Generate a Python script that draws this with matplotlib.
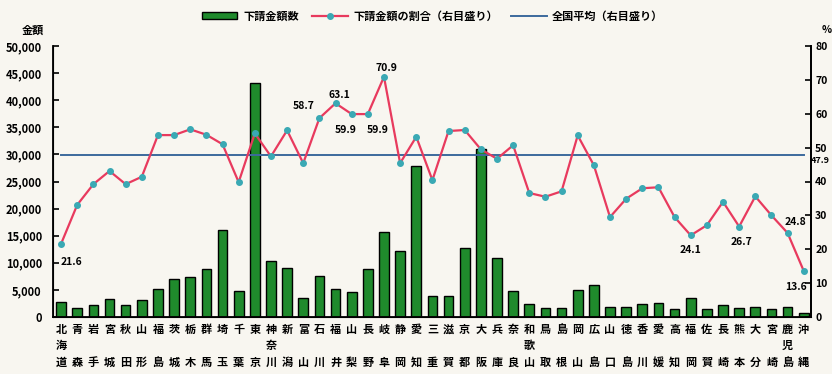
import matplotlib
matplotlib.use("Agg")
import matplotlib.pyplot as plt
from matplotlib.ticker import FuncFormatter, MultipleLocator
from matplotlib.patches import Patch
from matplotlib.lines import Line2D

plt.rcParams['font.family'] = ['Noto Sans CJK JP', 'DejaVu Sans']

prefectures = ["北海道", "青森", "岩手", "宮城", "秋田", "山形", "福島", "茨城", "栃木", "群馬",
               "埼玉", "千葉", "東京", "神奈川", "新潟", "富山", "石川", "福井", "山梨", "長野",
               "岐阜", "静岡", "愛知", "三重", "滋賀", "京都", "大阪", "兵庫", "奈良", "和歌山",
               "鳥取", "島根", "岡山", "広島", "山口", "徳島", "香川", "愛媛", "高知", "福岡",
               "佐賀", "長崎", "熊本", "大分", "宮崎", "鹿児島", "沖縄"]

amounts = [2700, 1750, 2250, 3250, 2150, 3200, 5250, 7000, 7300, 8850,
           16100, 4750, 43200, 10300, 9050, 3450, 7500, 5250, 4700, 8800,
           15600, 12100, 27900, 3950, 3950, 12800, 31000, 10800, 4750, 2400,
           1700, 1700, 5000, 5900, 1900, 1900, 2350, 2650, 1450, 3450,
           1450, 2150, 1700, 1900, 1450, 1900, 650]

shares = [21.6, 33.1, 39.2, 43.1, 39.2, 41.4, 53.7, 53.7, 55.4, 53.8,
          51.0, 39.8, 54.2, 47.4, 55.1, 45.4, 58.7, 63.1, 59.9, 59.9,
          70.9, 45.4, 53.2, 40.4, 54.9, 55.2, 49.5, 46.7, 50.7, 36.6,
          35.5, 37.1, 53.6, 44.8, 29.5, 34.9, 38.0, 38.3, 29.5, 24.1,
          27.1, 34.0, 26.7, 35.6, 30.0, 24.8, 13.6]

national_avg = 47.9

labelled = {0: "21.6", 16: "58.7", 17: "63.1", 18: "59.9", 19: "59.9", 20: "70.9",
            39: "24.1", 42: "26.7", 45: "24.8", 46: "13.6"}
label_offsets = {0: (10, -18), 16: (-16, 12), 17: (4, 8), 18: (-6, -16), 19: (10, -16),
                 20: (2, 9), 39: (0, -15), 42: (2, -15), 45: (8, 11), 46: (-8, -16)}

bg = '#f8f6f0'
fig = plt.figure(figsize=(8.32, 3.74), dpi=100, facecolor=bg)
ax = fig.add_axes([53/832, 1-317/374, (811-53)/832, (317-46)/374])
ax.set_facecolor(bg)
x = list(range(len(prefectures)))

ax.bar(x, amounts, width=0.6, color='#1f8a2c', edgecolor='black', linewidth=1.0, zorder=2)
ax.set_ylim(0, 50000)
ax.set_xlim(-0.5, 46.45)
ax.yaxis.set_major_locator(MultipleLocator(5000))
ax.yaxis.set_major_formatter(FuncFormatter(lambda v, p: f"{int(v):,}"))
ax.tick_params(axis='y', direction='in', length=4, width=1.2, labelsize=8, pad=8)
ax.tick_params(axis='x', length=0, pad=4)
ax.spines['top'].set_visible(False)
for s in ['left', 'right', 'bottom']:
    ax.spines[s].set_linewidth(1.3)
for lab in ax.get_yticklabels():
    lab.set_fontweight('bold')

xlabels = []
for name in prefectures:
    if len(name) == 2:
        xlabels.append(name[0] + "\n\u3000\n" + name[1])
    else:
        xlabels.append("\n".join(name))
ax.set_xticks(x)
ax.set_xticklabels(xlabels, fontsize=8, fontweight='bold', linespacing=1.35)

ax2 = ax.twinx()
ax2.set_ylim(0, 80)
ax2.yaxis.set_major_locator(MultipleLocator(10))
ax2.tick_params(axis='y', direction='in', length=4, width=1.2, labelsize=7.5, pad=3)
ax2.spines['top'].set_visible(False)
ax2.spines['right'].set_linewidth(1.3)
for lab in ax2.get_yticklabels():
    lab.set_fontweight('bold')

ax2.plot([0, len(x)-1], [national_avg, national_avg], color='#3c6a9c', linewidth=1.4, zorder=3)
ax2.plot(x, shares, color='#e83a5e', linewidth=1.6, marker='o', markersize=4,
         markerfacecolor='#3aa9b4', markeredgecolor='#3aa9b4', zorder=4)

for i, txt in labelled.items():
    dx, dy = label_offsets[i]
    ax2.annotate(txt, (i, shares[i]), xytext=(dx, dy), textcoords='offset pixels',
                 ha='center', va='center', fontsize=7.5, fontweight='bold')

ax2.text(1.0, national_avg - 1.8, f"{national_avg}", transform=ax2.get_yaxis_transform(),
         fontsize=6.5, fontweight='bold', ha='left', va='center', clip_on=False)

fig.text(33/832, 1-30/374, "金額", fontsize=8, fontweight='bold', ha='center', va='center')
fig.text(822/832, 1-30/374, "%", fontsize=7.5, fontweight='bold', ha='left', va='center')

handles = [Patch(facecolor='#1f8a2c', edgecolor='black', linewidth=1.0),
           Line2D([0], [0], color='#e83a5e', linewidth=1.6, marker='o', markersize=4,
                  markerfacecolor='#3aa9b4', markeredgecolor='#3aa9b4'),
           Line2D([0], [0], color='#3c6a9c', linewidth=1.4)]
names = ["下請金額数", "下請金額の割合（右目盛り）", "全国平均（右目盛り）"]
leg = fig.legend(handles, names, loc='center', bbox_to_anchor=(0.52, 1-16/374), ncol=3,
                 frameon=False, fontsize=8, handlelength=3.2, handleheight=0.6,
                 columnspacing=1.2, handletextpad=0.5)
for t in leg.get_texts():
    t.set_fontweight('bold')

fig.savefig("out.png", dpi=100, facecolor=bg)
